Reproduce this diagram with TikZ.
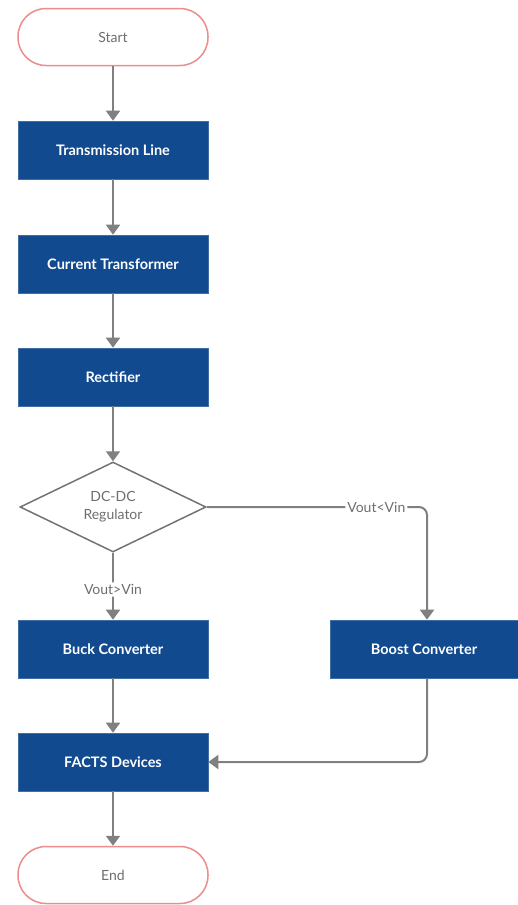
\documentclass[tikz,border=0pt]{standalone}
\usepackage{fontspec}
\setmainfont{Lato}
\usetikzlibrary{shapes.geometric,arrows.meta}
\definecolor{boxblue}{RGB}{17,74,143}
\definecolor{termred}{RGB}{236,140,140}
\definecolor{linegray}{RGB}{128,128,128}
\definecolor{textgray}{RGB}{110,110,110}
\begin{document}
\begin{tikzpicture}[x=1pt,y=-1pt,
  term/.style={draw=termred,line width=1.5pt,rounded corners=28pt,minimum width=190pt,minimum height=57pt,text=textgray,font=\fontsize{14}{16}\selectfont,inner sep=0pt},
  proc/.style={fill=boxblue,draw=boxblue!80!white,line width=0.6pt,minimum width=190pt,minimum height=58pt,text=white,font=\fontsize{14.5}{16}\selectfont\bfseries,inner sep=0pt},
  dec/.style={draw=linegray!90!black,line width=1.5pt,diamond,aspect=2.07,minimum width=186pt,minimum height=90pt,inner sep=0pt,text=textgray,font=\fontsize{14}{18}\selectfont,align=center},
  conn/.style={draw=linegray,line width=2pt,-{Triangle[length=10pt,width=14pt]},rounded corners=8pt},
  lbl/.style={fill=white,text=textgray,font=\fontsize{14}{16}\selectfont,inner sep=2pt}]
\useasboundingbox (0,0) rectangle (518,905);
\node[term] (start) at (113,37) {Start};
\node[proc] (tl) at (113,150) {Transmission Line};
\node[proc] (ct) at (113,264) {Current Transformer};
\node[proc] (rec) at (113,377) {Rectifier};
\node[dec] (reg) at (113,507) {DC-DC\\Regulator};
\node[proc] (buck) at (113,649) {Buck Converter};
\node[proc,minimum width=188pt] (boost) at (424,649) {Boost Converter};
\node[proc] (facts) at (113,762) {FACTS Devices};
\node[term] (end) at (113,875) {End};
\coordinate (c1) at (427,507);
\coordinate (c2) at (427,762);
\draw[conn] (start) -- (tl);
\draw[conn] (tl) -- (ct);
\draw[conn] (ct) -- (rec);
\draw[conn] (rec) -- (reg);
\draw[conn] (reg) -- node[lbl,pos=0.55] {Vout>Vin} (buck);
\draw[conn] (reg.east) -- node[lbl,pos=0.77] {Vout<Vin} (c1) -- (c1 |- boost.north);
\draw[conn] (c1 |- boost.south) -- (c2) -- (facts.east);
\draw[conn] (buck) -- (facts);
\draw[conn] (facts) -- (end);
\end{tikzpicture}
\end{document}
